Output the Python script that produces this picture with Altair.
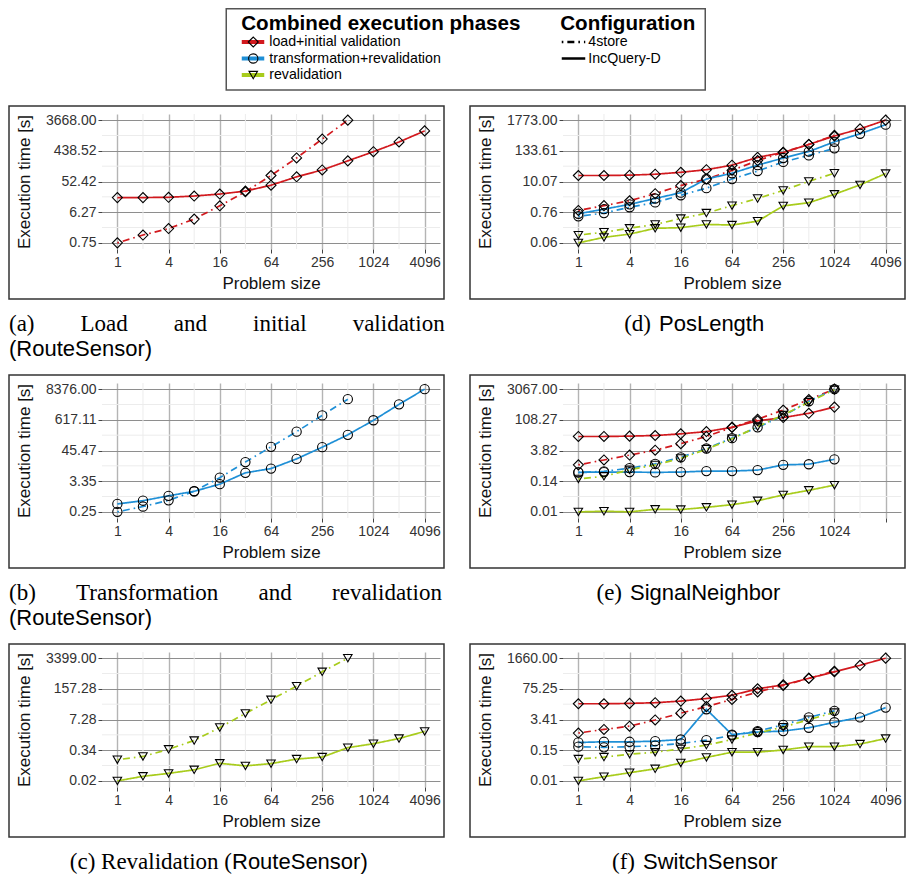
import math
import altair as alt
import pandas as pd

# ---------------- data ----------------
SIZES = [1, 2, 4, 8, 16, 32, 64, 128, 256, 512, 1024, 2048, 4096]
PHASES = ["load+initial validation", "transformation+revalidation", "revalidation"]
PHASE_COLORS = ["#D2191E", "#1E8FD6", "#A8CC1C"]
PHASE_SHAPES = ["diamond", "circle", "triangle-down"]
CONFIGS = ["4store", "IncQuery-D"]
X_MAJOR = [1, 4, 16, 64, 256, 1024, 4096]
X_MINOR = [2, 8, 32, 128, 512, 2048]

# (a) Load and initial validation (RouteSensor)
a_load_iq = [17.2, 17.2, 17.6, 19.2, 22.0, 27.0, 40.5, 72.5, 116.5, 219, 412, 809, 1741]
a_load_4s = [0.75, 1.29, 2.02, 3.88, 9.77, 25.8, 79.4, 268, 990, 3668]
a_ticks = [0.75, 6.27, 52.42, 438.52, 3668.0]
a_labels = ["0.75", "6.27", "52.42", "438.52", "3668.00"]

# (b) Transformation and revalidation (RouteSensor)
b_trans_iq = [0.485, 0.638, 0.966, 1.42, 2.60, 6.83, 9.78, 22.3, 60.3, 171.9, 594, 2294, 8376]
b_trans_4s = [0.247, 0.389, 0.656, 1.42, 4.52, 16.98, 62.0, 226, 899, 3565]
b_ticks = [0.2469, 3.35, 45.47, 617.11, 8376.0]
b_labels = ["0.25", "3.35", "45.47", "617.11", "8376.00"]

# (c) Revalidation (RouteSensor)
c_reval_iq = [0.0157, 0.0248, 0.0333, 0.0476, 0.0914, 0.0705, 0.0885, 0.1396, 0.170, 0.437, 0.646, 1.088, 2.226]
c_reval_4s = [0.131, 0.181, 0.371, 0.894, 3.29, 13.4, 52.5, 206, 865, 3399]
c_ticks = [0.01574, 0.34, 7.28, 157.28, 3399.0]
c_labels = ["0.02", "0.34", "7.28", "157.28", "3399.00"]

# (d) PosLength
d_load_iq = [16.7, 16.7, 17.2, 18.6, 21.9, 27.2, 39.9, 76.9, 115.9, 229, 465, 849, 1773]
d_load_4s = [0.877, 1.32, 1.99, 3.62, 7.16, 12.4, 25.8, 58.6, 119, 229, 492]
d_trans_iq = [0.667, 0.978, 1.47, 2.41, 3.93, 12.4, 20.2, 40.0, 72.8, 125.7, 285, 564, 1211]
d_trans_4s = [0.537, 0.705, 1.15, 1.73, 3.16, 5.76, 12.4, 24.4, 52.5, 90.6, 165]
d_reval_iq = [0.0573, 0.0911, 0.1197, 0.1956, 0.206, 0.271, 0.257, 0.356, 1.29, 1.69, 3.43, 7.57, 19.7]
d_reval_4s = [0.110, 0.141, 0.196, 0.271, 0.444, 0.705, 1.32, 2.41, 4.76, 10.2, 20.2]
d_ticks = [0.0573, 0.76, 10.07, 133.61, 1773.0]
d_labels = ["0.06", "0.76", "10.07", "133.61", "1773.00"]

# (e) SignalNeighbor
e_load_iq = [17.6, 17.6, 18.3, 19.6, 23.4, 30.0, 47.7, 97.2, 138.7, 220, 433]
e_load_4s = [0.798, 1.36, 2.32, 3.95, 8.05, 17.6, 47.7, 116, 315, 981, 3067]
e_trans_iq = [0.352, 0.364, 0.364, 0.352, 0.364, 0.406, 0.406, 0.451, 0.798, 0.857, 1.46]
e_trans_4s = [0.352, 0.392, 0.559, 0.887, 1.81, 4.73, 14.7, 47.7, 166, 822, 3067]
e_reval_iq = [0.00475, 0.0051, 0.00475, 0.0063, 0.0061, 0.0078, 0.0104, 0.0159, 0.0302, 0.0497, 0.0878]
e_reval_4s = [0.173, 0.229, 0.467, 0.798, 1.62, 4.40, 13.7, 51.3, 184, 739, 2855]
e_ticks = [0.00476, 0.135, 3.82, 108.27, 3067.0]
e_labels = ["0.01", "0.14", "3.82", "108.27", "3067.00"]

# (f) SwitchSensor
f_load_iq = [16.7, 16.7, 17.3, 18.5, 21.8, 28.3, 39.3, 75.8, 112, 217, 418, 806, 1660]
f_load_4s = [0.873, 1.25, 1.74, 3.25, 6.47, 12.5, 25.7, 54.6, 105, 217, 446]
f_trans_iq = [0.337, 0.360, 0.360, 0.384, 0.453, 9.59, 0.741, 0.963, 1.06, 1.48, 2.58, 4.22, 11.3]
f_trans_4s = [0.220, 0.206, 0.220, 0.243, 0.305, 0.424, 0.694, 1.06, 1.99, 4.22, 8.14]
f_reval_iq = [0.00701, 0.0107, 0.0159, 0.0236, 0.0426, 0.0745, 0.126, 0.126, 0.158, 0.220, 0.220, 0.286, 0.500]
f_reval_4s = [0.0632, 0.077, 0.1034, 0.126, 0.175, 0.259, 0.453, 0.873, 1.58, 3.36, 6.91]
f_ticks = [0.00701, 0.1546, 3.41, 75.25, 1660.0]
f_labels = ["0.01", "0.15", "3.41", "75.25", "1660.00"]

NB = "\u00a0"
cap_a = ["(a)" + NB * 8 + "Load" + NB * 8 + "and" + NB * 8 + "initial" + NB * 8 + "validation", "(RouteSensor)"]
cap_b = ["(b)" + NB * 7 + "Transformation" + NB * 7 + "and" + NB * 7 + "revalidation", "(RouteSensor)"]
cap_c = ["(c) Revalidation (", "RouteSensor)"]
cap_d = ["(d)", "PosLength"]
cap_e = ["(e)", "SignalNeighbor"]
cap_f = ["(f)", "SwitchSensor"]

# ---------------- layout / style ----------------
W, H = 338, 135
SANS = "Liberation Sans"
SERIF = "Liberation Serif"
DASH = [1.6, 4, 7, 4]
ONE = pd.DataFrame({"k": [0]})

color_enc = alt.Color("phase:N", scale=alt.Scale(domain=PHASES, range=PHASE_COLORS), legend=None)
dash_enc = alt.StrokeDash("config:N", scale=alt.Scale(domain=CONFIGS, range=[DASH, [1, 0]]), legend=None)
shape_enc = alt.Shape("phase:N", scale=alt.Scale(domain=PHASES, range=PHASE_SHAPES), legend=None)
size_enc = alt.Size("phase:N", scale=alt.Scale(domain=PHASES, range=[100, 72, 100]), legend=None)


def series_df(rows):
    recs = []
    for phase, config, vals in rows:
        for s, v in zip(SIZES, vals):
            recs.append({"size": s, "time": v, "phase": phase, "config": config})
    return pd.DataFrame(recs)


def panel(rows, ticks, labels, caption, kind, xb=0, hide_last_x=False):
    df = series_df(rows)
    ratio = ticks[-1] / ticks[0]
    pad = ratio ** 0.05
    ydom = [ticks[0] / pad, ticks[-1] * pad]
    minor_y = [math.sqrt(a * b) for a, b in zip(ticks[:-1], ticks[1:])]
    expr = "'" + labels[-1] + "'"
    for i in range(len(ticks) - 2, -1, -1):
        mid = math.sqrt(ticks[i] * ticks[i + 1])
        expr = f"datum.value < {mid:.6g} ? '{labels[i]}' : " + expr

    xscale = alt.Scale(type="log", base=2, domain=[2 ** -0.6, 2 ** 12.6], nice=False)
    yscale = alt.Scale(type="log", domain=ydom, nice=False, zero=False)
    xaxis = alt.Axis(
        values=X_MAJOR, format="d", title="Problem size",
        labelExpr="datum.value > 2048 ? '' : datum.label" if hide_last_x else "datum.label",
        grid=True, gridColor="#b4b4b4", gridWidth=1.4, domain=False,
        tickColor="#444", tickSize=4, labelFont=SANS, labelFontSize=14, labelColor="#333",
        labelPadding=2, titleFont=SANS, titleFontSize=17, titleFontWeight="normal",
        titleColor="#111", titlePadding=6, labelFlush=False, labelOverlap=False,
    )
    yaxis = alt.Axis(
        values=ticks, labelExpr=expr, title="Execution time [s]",
        grid=True, gridColor="#8e8e8e", gridWidth=1, domain=False,
        tickColor="#444", tickSize=4, labelFont=SANS, labelFontSize=14, labelColor="#333",
        labelPadding=2, titleFont=SANS, titleFontSize=17, titleFontWeight="normal",
        titleColor="#111", titlePadding=12, labelFlush=False, labelOverlap=False,
    )
    xenc = alt.X("size:Q", scale=xscale, axis=xaxis)
    yenc = alt.Y("time:Q", scale=yscale, axis=yaxis)

    minor_x = alt.Chart(pd.DataFrame({"size": X_MINOR})).mark_rule(
        color="#ececec", strokeWidth=1).encode(x=xenc)
    minor_yl = alt.Chart(pd.DataFrame({"time": minor_y})).mark_rule(
        color="#ececec", strokeWidth=1).encode(y=yenc)
    lines = alt.Chart(df).mark_line(strokeWidth=1.7).encode(
        x=xenc, y=yenc, color=color_enc, strokeDash=dash_enc)
    pts = alt.Chart(df).mark_point(filled=False, color="black", strokeWidth=1.1, opacity=1).encode(
        x=xenc, y=yenc, shape=shape_enc, size=size_enc, detail="config:N")
    frame = alt.Chart(ONE).mark_rect(fillOpacity=0, stroke="#333", strokeWidth=1.5).encode(
        x=alt.value(-93), x2=alt.value(W + 4), y=alt.value(-8), y2=alt.value(H + 50))

    layers = [minor_x, minor_yl, lines, pts, frame]
    if kind == "two":
        layers.append(alt.Chart(ONE).mark_text(font=SERIF, fontSize=23, align="left", baseline="middle",
                                               color="black").encode(
            x=alt.value(-93), y=alt.value(H + 75), text=alt.value(caption[0])))
        layers.append(alt.Chart(ONE).mark_text(font=SANS, fontSize=22, align="left", baseline="middle",
                                               color="black").encode(
            x=alt.value(-93), y=alt.value(H + 100), text=alt.value(caption[1])))
    else:
        layers.append(alt.Chart(ONE).mark_text(font=SERIF, fontSize=23, align="right", baseline="middle",
                                               color="black").encode(
            x=alt.value(xb - (0 if kind == "paren" else 8)), y=alt.value(H + 75), text=alt.value(caption[0])))
        layers.append(alt.Chart(ONE).mark_text(font=SANS, fontSize=22, align="left", baseline="middle",
                                               color="black").encode(
            x=alt.value(xb), y=alt.value(H + 75), text=alt.value(caption[1])))
    return alt.layer(*layers).properties(width=W, height=H)


L, T, R = PHASES
pa = panel([(L, "IncQuery-D", a_load_iq), (L, "4store", a_load_4s)], a_ticks, a_labels, cap_a, "two")
pb = panel([(T, "IncQuery-D", b_trans_iq), (T, "4store", b_trans_4s)], b_ticks, b_labels, cap_b, "two")
pc = panel([(R, "IncQuery-D", c_reval_iq), (R, "4store", c_reval_4s)], c_ticks, c_labels, cap_c, "paren", xb=130)
pd_ = panel([(L, "IncQuery-D", d_load_iq), (L, "4store", d_load_4s),
             (T, "IncQuery-D", d_trans_iq), (T, "4store", d_trans_4s),
             (R, "IncQuery-D", d_reval_iq), (R, "4store", d_reval_4s)],
            d_ticks, d_labels, cap_d, "one", xb=96)
pe = panel([(L, "IncQuery-D", e_load_iq), (L, "4store", e_load_4s),
            (T, "IncQuery-D", e_trans_iq), (T, "4store", e_trans_4s),
            (R, "IncQuery-D", e_reval_iq), (R, "4store", e_reval_4s)],
           e_ticks, e_labels, cap_e, "one", xb=67, hide_last_x=True)
pf = panel([(L, "IncQuery-D", f_load_iq), (L, "4store", f_load_4s),
            (T, "IncQuery-D", f_trans_iq), (T, "4store", f_trans_4s),
            (R, "IncQuery-D", f_reval_iq), (R, "4store", f_reval_4s)],
           f_ticks, f_labels, cap_f, "one", xb=80)

# ---------------- legend ----------------
OX = -93.75  # legend origin is aligned with the panels' plot origin
LEG_W = 803
phase_df = pd.DataFrame({"phase": PHASES, "row": [0, 1, 2]})
conf_df = pd.DataFrame({"config": CONFIGS, "row": [0, 1]})
yrow = alt.Y("row:Q", scale=alt.Scale(domain=[0, 2], range=[34, 67]), axis=None)

leg_box = alt.Chart(ONE).mark_rect(fillOpacity=0, stroke="#555", strokeWidth=1.5).encode(
    x=alt.value(218 + OX), x2=alt.value(697 + OX), y=alt.value(0.75), y2=alt.value(82))
leg_t1 = alt.Chart(ONE).mark_text(font=SANS, fontSize=20.6, fontWeight="bold", align="left",
                                  baseline="middle", color="black").encode(
    x=alt.value(233 + OX), y=alt.value(16), text=alt.value("Combined execution phases"))
leg_t2 = alt.Chart(ONE).mark_text(font=SANS, fontSize=20.6, fontWeight="bold", align="left",
                                  baseline="middle", color="black").encode(
    x=alt.value(552 + OX), y=alt.value(16), text=alt.value("Configuration"))
leg_pl = alt.Chart(phase_df).mark_rule(strokeWidth=4).encode(
    x=alt.value(233.5 + OX), x2=alt.value(256 + OX), y=yrow, color=color_enc)
leg_pp = alt.Chart(phase_df).mark_point(filled=False, color="black", strokeWidth=1.1, opacity=1).encode(
    x=alt.value(245 + OX), y=yrow, shape=shape_enc, size=size_enc)
leg_ptx = alt.Chart(phase_df).mark_text(font=SANS, fontSize=14.2, align="left", baseline="middle",
                                        color="black").encode(
    x=alt.value(261 + OX), y=yrow, text="phase:N")
leg_cl = alt.Chart(conf_df).mark_rule(strokeWidth=2.6, color="black").encode(
    x=alt.value(553.5 + OX), x2=alt.value(577 + OX), y=yrow, strokeDash=dash_enc)
leg_ctx = alt.Chart(conf_df).mark_text(font=SANS, fontSize=14.2, align="left", baseline="middle",
                                       color="black").encode(
    x=alt.value(580 + OX), y=yrow, text="config:N")
legend = alt.layer(leg_box, leg_t1, leg_t2, leg_pl, leg_pp, leg_ptx, leg_cl, leg_ctx).properties(
    width=LEG_W, height=82)

row1 = alt.hconcat(pa, pd_, spacing=24).resolve_scale(x="independent", y="independent")
row2 = alt.hconcat(pb, pe, spacing=24).resolve_scale(x="independent", y="independent")
row3 = alt.hconcat(pc, pf, spacing=24).resolve_scale(x="independent", y="independent")

chart = alt.vconcat(legend, row1, row2, row3, spacing=14).resolve_scale(
    x="independent", y="independent").configure_view(stroke=None).properties(padding=0)

chart.save("out.html", embed_options={"renderer": "svg", "actions": False})
